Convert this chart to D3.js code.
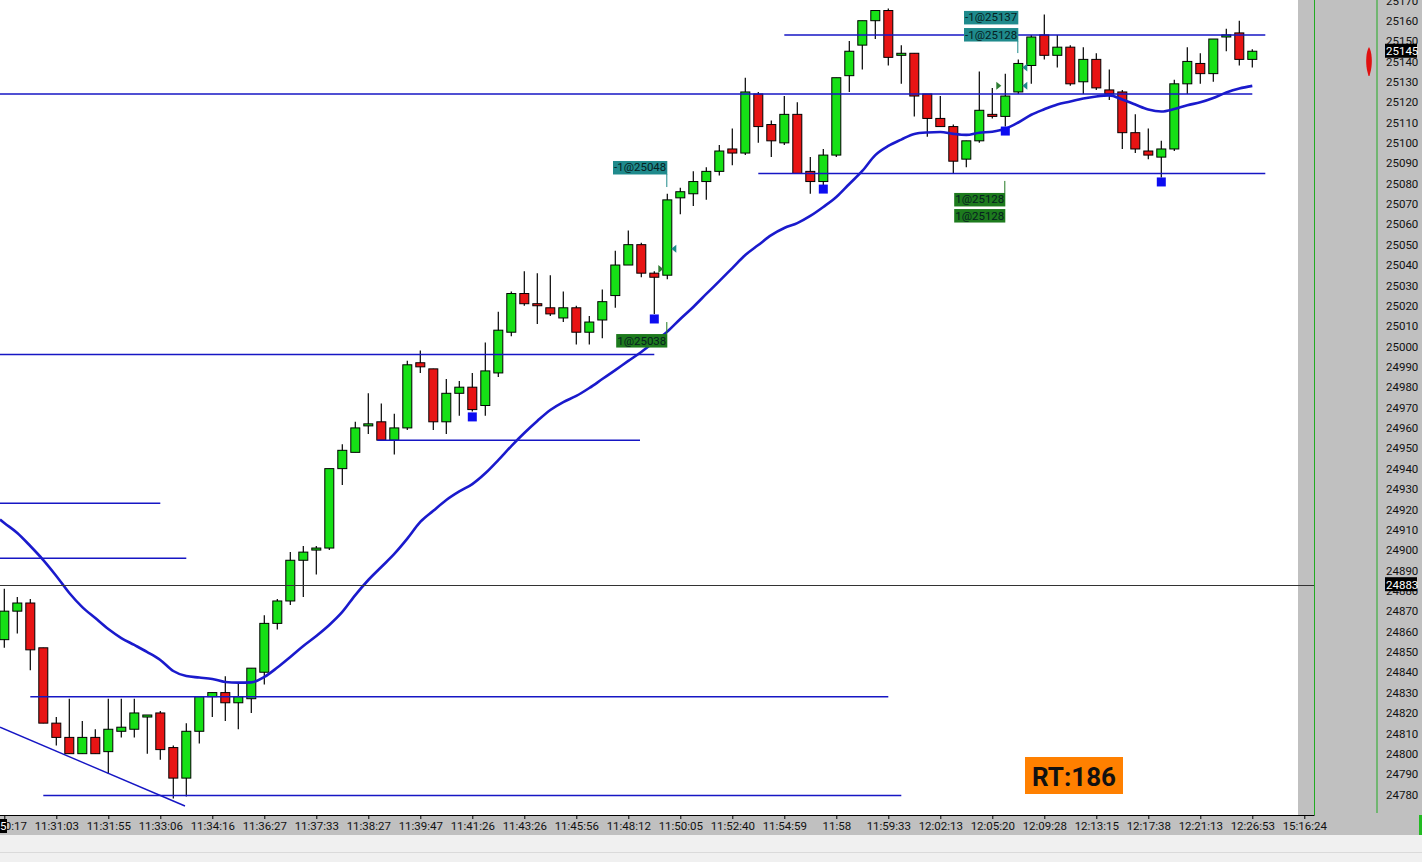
<!DOCTYPE html>
<html>
<head>
<meta charset="utf-8">
<script src="https://cdn.jsdelivr.net/npm/d3@7"></script>
<style>
  body { margin: 0; background: #f0f0f0; overflow: hidden; }
  text { font-family: Roboto, "Noto Sans", sans-serif; }
</style>
</head>
<body>
<div id="chart"></div>
<script>
// candles, oldest first (prices)
const opens = [24856,24870,24874,24852,24815,24808,24800,24808,24801,24811,24812,24818,24820,24803,24788,24811,24828,24830,24825,24827,
  24840,24864,24875,24895,24900,24901,24940,24948,24961,24963,24954,24960,24992,24989,24963,24977,24980,24971,24987,25007,
  25026,25021,25019,25014,25019,25007,25013,25025,25040,25050,25036,25035,25073,25075,25081,25086,25097,25095,25124,25109,
  25100,25114,25086,25081,25094,25133,25148,25160,25165,25143,25144,25124,25112,25108,25092,25101,25114,25113,25125,25138,
  25153,25143,25147,25130,25141,25126,25125,25105,25096,25093,25097,25129,25139,25134,25152,25154,25141];
const highs = [24881,24877,24876,24852,24818,24827,24816,24812,24827,24827,24827,24819,24821,24804,24815,24828,24830,24838,24835,24842,
  24868,24876,24899,24902,24902,24940,24952,24963,24977,24972,24967,24993,24998,24989,24984,24983,24987,25002,25017,25027,
  25037,25036,25035,25027,25020,25015,25028,25047,25057,25051,25037,25075,25078,25086,25088,25099,25107,25132,25125,25111,
  25123,25120,25093,25097,25132,25150,25160,25165,25166,25148,25144,25124,25123,25109,25101,25135,25127,25134,25141,25153,
  25163,25153,25148,25147,25144,25136,25126,25114,25107,25101,25131,25147,25144,25151,25156,25160,25146];
const lows = [24852,24859,24841,24815,24804,24800,24800,24800,24790,24808,24808,24800,24797,24778,24779,24805,24818,24816,24812,24820,
  24834,24861,24873,24877,24888,24900,24932,24948,24957,24954,24947,24959,24987,24959,24957,24966,24968,24966,24985,25005,
  25020,25011,25015,25012,25001,25001,25004,25019,25040,25034,25016,25033,25065,25069,25072,25084,25089,25094,25100,25093,
  25099,25085,25075,25079,25093,25125,25136,25151,25138,25129,25113,25103,25108,25085,25088,25100,25112,25108,25124,25129,
  25141,25137,25128,25124,25126,25121,25097,25095,25092,25083,25096,25124,25129,25130,25145,25138,25137];
const closes = [24870,24874,24851,24815,24808,24800,24808,24800,24812,24813,24820,24819,24802,24788,24811,24828,24830,24825,24828,24842,
  24864,24875,24895,24899,24901,24940,24949,24960,24962,24954,24960,24991,24990,24963,24977,24980,24969,24988,25008,25026,
  25021,25020,25016,25019,25007,25012,25022,25040,25050,25036,25034,25072,25076,25081,25086,25096,25095,25125,25108,25101,
  25114,25085,25081,25094,25132,25145,25160,25165,25142,25144,25123,25112,25108,25091,25101,25116,25113,25123,25139,25152,
  25143,25147,25129,25141,25127,25124,25105,25097,25094,25097,25129,25140,25134,25151,25153,25141,25145];

// moving average, one value per candle
const movingAvg = [24913.3,24908.4,24902.0,24895.1,24887.3,24878.9,24872.0,24866.6,24861.2,24856.8,24853.4,24849.9,24846.0,24840.6,24838.1,
  24837.4,24836.7,24835.2,24834.9,24835.0,24837.7,24842.3,24847.5,24852.9,24857.8,24863.2,24869.6,24877.9,24885.3,24891.7,
  24898.1,24905.6,24913.8,24919.3,24924.6,24928.8,24932.4,24937.7,24944.2,24951.1,24957.5,24963.4,24968.8,24972.7,24975.7,
  24979.6,24984.0,24988.4,24992.9,24997.3,25002.2,25007.3,25013.5,25019.4,25025.8,25032.1,25038.5,25044.9,25049.8,25054.7,
  25058.2,25060.6,25064.1,25068.5,25073.4,25079.8,25086.2,25094.0,25098.5,25101.6,25104.4,25105.1,25105.3,25104.4,25103.9,
  25105.0,25105.5,25106.9,25110.0,25113.8,25116.5,25118.9,25120.3,25121.8,25122.8,25123.3,25121.3,25118.8,25116.4,25115.4,
  25116.6,25118.5,25119.9,25122.0,25124.7,25126.7,25128.0];
const movingAvgStart = 24915.0; // value where the line enters at the left edge

// time axis labels, one every 4 bars
const timeLabels = ['11:30:17','11:31:03','11:31:55','11:33:06','11:34:16','11:36:27','11:37:33','11:38:27','11:39:47',
  '11:41:26','11:43:26','11:45:56','11:48:12','11:50:05','11:52:40','11:54:59','11:58','11:59:33','12:02:13','12:05:20',
  '12:09:28','12:13:15','12:17:38','12:21:13','12:26:53','15:16:24'];

// drawn horizontal levels (price, from bar, to bar)
const levelPrices = [25124, 25153, 25085, 24996, 24954, 24923, 24896, 24828, 24779.5];
const levelFrom = [-0.5, 60, 58, -0.5, 28.7, -0.5, -0.5, 2, 3];
const levelTo = [96, 97, 97, 50, 48.9, 12, 14, 68, 69];

// trend line (bar, price)
const trendBars = [-0.33, 13.9];
const trendPrices = [24813, 24774.3];

// blue signal squares
const signalBars = [36, 50, 63, 77, 89];
const signalPrices = [24965.4, 25013.5, 25077.3, 25105.8, 25080.8];

// fills
const tradeText = ['-1@25048', '1@25038', '-1@25137', '-1@25128', '1@25128', '1@25128'];
const tradeBars = [51, 51, 78, 78, 77, 77];
const tradeTop = [25091.1, 25006.1, 25164.8, 25156.4, 25075.4, 25067.5];
const tradeSide = ['sell', 'buy', 'sell', 'sell', 'buy', 'buy'];
const tickBars = [51, 51, 78, 77];
const tickFrom = [25084.7, 25012.0, 25150.0, 25081.3];
const tickTo = [25078.3, 25006.1, 25144.1, 25075.4];
const tickSide = ['sell', 'buy', 'sell', 'buy'];
const fillBars = [51, 51, 78, 78, 77];
const fillPrices = [25048, 25038, 25137, 25128, 25128];
const fillSide = ['sell', 'buy', 'sell', 'sell', 'buy'];

const lastPrice = 25145;
const linePrice = 24883;
const yTicks = d3.range(24780, 25171, 10);

const W = 1422, H = 862;
const plotW = 1298, axisY = 815;

const svg = d3.select('#chart').append('svg')
  .attr('width', W).attr('height', H)
  .attr('xmlns', 'http://www.w3.org/2000/svg');

// backgrounds
svg.append('rect').attr('width', W).attr('height', H).attr('fill', '#f0f0f0');
svg.append('rect').attr('width', W).attr('height', 835).attr('fill', '#c0c0c0');
svg.append('rect').attr('width', plotW).attr('height', axisY).attr('fill', '#ffffff');
svg.append('line').attr('x1', 0).attr('x2', W).attr('y1', 852.5).attr('y2', 852.5).attr('stroke', '#dadada');

svg.append('clipPath').attr('id', 'plot').append('rect').attr('width', plotW).attr('height', axisY);

const x = d3.scaleLinear().domain([0, 100]).range([4.3, 1304.3]);
const y = d3.scaleLinear().domain([24780, 25160]).range([794.4, 20.7]);

const g = svg.append('g').attr('clip-path', 'url(#plot)');

// candles
const bars = d3.range(opens.length);
const bodyW = 9;
g.append('g').selectAll('line').data(bars).join('line')
  .attr('x1', i => x(i)).attr('x2', i => x(i))
  .attr('y1', i => y(highs[i])).attr('y2', i => y(lows[i]))
  .attr('stroke', '#000').attr('stroke-width', 1.2);
g.append('g').selectAll('rect').data(bars).join('rect')
  .attr('x', i => x(i) - bodyW / 2)
  .attr('y', i => y(Math.max(opens[i], closes[i])))
  .attr('width', bodyW)
  .attr('height', i => Math.max(2, Math.abs(y(opens[i]) - y(closes[i]))))
  .attr('fill', i => closes[i] >= opens[i] ? '#16e016' : '#e81414')
  .attr('stroke', '#000').attr('stroke-width', 1);

// drawn levels
const lineBlue = '#1616c4';
g.append('g').selectAll('line').data(levelPrices).join('line')
  .attr('x1', (p, k) => x(levelFrom[k])).attr('x2', (p, k) => x(levelTo[k]))
  .attr('y1', p => y(p)).attr('y2', p => y(p))
  .attr('stroke', lineBlue).attr('stroke-width', 1.5);

g.append('line')
  .attr('x1', x(trendBars[0])).attr('y1', y(trendPrices[0]))
  .attr('x2', x(trendBars[1])).attr('y2', y(trendPrices[1]))
  .attr('stroke', lineBlue).attr('stroke-width', 1.4);

// moving average (enters from the left edge)
const maPts = [[-0.33, movingAvgStart]].concat(movingAvg.map((v, i) => [i, v]));
g.append('path').datum(maPts)
  .attr('d', d3.line().x(d => x(d[0])).y(d => y(d[1])).curve(d3.curveMonotoneX))
  .attr('fill', 'none').attr('stroke', '#1a1acc').attr('stroke-width', 2.6);

// current price line
svg.append('line').attr('x1', 0).attr('x2', 1314)
  .attr('y1', Math.round(y(linePrice)) + 0.5).attr('y2', Math.round(y(linePrice)) + 0.5)
  .attr('stroke', '#333').attr('stroke-width', 1);

// signal squares
g.append('g').selectAll('rect').data(signalBars).join('rect')
  .attr('x', i => x(i) - 4.5).attr('y', (i, k) => y(signalPrices[k]) - 4.5)
  .attr('width', 9).attr('height', 9).attr('fill', '#0c0cf0');

// fill markers
g.append('g').selectAll('path').data(fillBars).join('path')
  .attr('d', (i, k) => {
    const cx = x(i), cy = y(fillPrices[k]);
    return fillSide[k] === 'buy'
      ? `M${cx - 9},${cy - 4}L${cx - 4},${cy}L${cx - 9},${cy + 4}Z`
      : `M${cx + 9},${cy - 4}L${cx + 4},${cy}L${cx + 9},${cy + 4}Z`;
  })
  .attr('fill', (i, k) => fillSide[k] === 'buy' ? '#2e7d32' : '#1f8a8a');

// trade labels
g.append('g').selectAll('line').data(tickBars).join('line')
  .attr('x1', i => x(i) - 0.5).attr('x2', i => x(i) - 0.5)
  .attr('y1', (i, k) => y(tickFrom[k])).attr('y2', (i, k) => y(tickTo[k]))
  .attr('stroke', (i, k) => tickSide[k] === 'sell' ? '#1f8a8a' : '#237a23').attr('stroke-width', 1);

const tl = g.append('g').selectAll('g').data(tradeText).join('g')
  .attr('transform', (t, k) => `translate(${x(tradeBars[k])},${y(tradeTop[k])})`);
tl.append('text')
  .attr('x', -1).attr('y', 10.5)
  .attr('text-anchor', 'end')
  .attr('font-size', 11.5)
  .attr('fill', '#062020')
  .text(t => t);
tl.insert('rect', 'text')
  .each(function(t, k) {
    const w = this.parentNode.querySelector('text').getComputedTextLength() + 2;
    d3.select(this).attr('x', -w).attr('y', 0).attr('width', w).attr('height', 13.5)
      .attr('fill', tradeSide[k] === 'sell' ? '#1f8a8c' : '#1d7a1d');
  });

// RT box
svg.append('rect').attr('x', 1025).attr('y', 757).attr('width', 98).attr('height', 37).attr('fill', '#ff8000');
svg.append('text').attr('x', 1074).attr('y', 785.5).attr('text-anchor', 'middle')
  .attr('font-size', 26).attr('font-weight', 'bold').attr('fill', '#111').text('RT:186');

// right panel lines
svg.append('line').attr('x1', 1314.5).attr('x2', 1314.5).attr('y1', 0).attr('y2', axisY).attr('stroke', '#22aa22');
svg.append('line').attr('x1', 1377).attr('x2', 1377).attr('y1', 0).attr('y2', 813).attr('stroke', '#22aa22');
svg.append('rect').attr('x', 1419).attr('y', 815).attr('width', 3).attr('height', 20).attr('fill', '#22bb22');

// marker in the panel
svg.append('path')
  .attr('d', 'M1369,47 C1372,52 1372.5,62 1371,70 L1369.5,76 L1368.5,76 L1367,70 C1365.5,62 1366,52 1369,47Z')
  .attr('fill', '#e01010');

// price axis
const yAxis = svg.append('g').attr('transform', 'translate(1386,0)')
  .call(d3.axisRight(y).tickValues(yTicks).tickSize(0).tickPadding(0).tickFormat(d3.format('d')));
yAxis.select('.domain').remove();
yAxis.selectAll('text').attr('font-size', 11.5).attr('font-family', 'Roboto, sans-serif').attr('fill', '#111');

function priceTag(p) {
  const cy = y(p);
  svg.append('rect').attr('x', 1385).attr('y', cy - 7.5).attr('width', 32).attr('height', 14).attr('fill', '#000');
  svg.append('text').attr('x', 1386).attr('y', cy + 4.2).attr('font-size', 11.5).attr('fill', '#fff').text(p);
}
priceTag(lastPrice);
priceTag(linePrice);

// time axis
const xAxis = svg.append('g').attr('transform', `translate(0,${axisY})`)
  .call(d3.axisBottom(x).tickValues(d3.range(0, 101, 4)).tickFormat((d, i) => timeLabels[i])
    .tickSize(4).tickSizeOuter(0));
xAxis.select('.domain').remove();
xAxis.selectAll('line').attr('stroke', '#000');
xAxis.selectAll('text').attr('font-size', 11.5).attr('font-family', 'Roboto, sans-serif').attr('fill', '#111');
svg.append('line').attr('x1', 0).attr('x2', 1314.5).attr('y1', axisY + 0.5).attr('y2', axisY + 0.5).attr('stroke', '#000');

svg.append('rect').attr('x', 0).attr('y', 819).attr('width', 7).attr('height', 14).attr('fill', '#000');
svg.append('text').attr('x', 0).attr('y', 830).attr('font-size', 11.5).attr('fill', '#fff').text('5');
</script>
</body>
</html>
